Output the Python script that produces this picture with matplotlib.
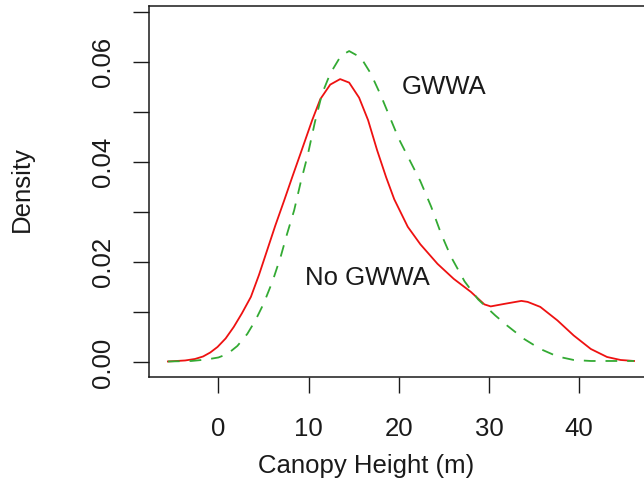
import matplotlib
matplotlib.use("Agg")
import matplotlib.pyplot as plt

plt.rcParams['font.family'] = ['Liberation Sans', 'DejaVu Sans']

# No GWWA (red, solid)
nogwwa_x = [-5.6, -3.7, -2.6, -1.7, -0.9, -0.1, 0.8, 1.7, 2.6, 3.6, 4.5, 5.4, 6.3, 7.3,
            8.2, 9.1, 10.4, 11.3, 12.4, 13.5, 14.5, 15.6, 16.6, 17.6, 18.6, 19.5, 21.0,
            22.4, 24.3, 26.1, 28.0, 29.5, 30.2, 31.7, 33.6, 34.3, 35.7, 37.6, 39.4,
            41.3, 43.1, 44.6, 46.1]
nogwwa_y = [0.0002, 0.0004, 0.0007, 0.0012, 0.0020, 0.0031, 0.0048, 0.0071, 0.0098,
            0.0131, 0.0175, 0.0224, 0.0273, 0.0324, 0.0371, 0.0417, 0.0484, 0.0526,
            0.0555, 0.0566, 0.0559, 0.0529, 0.0484, 0.0424, 0.0370, 0.0326, 0.0271,
            0.0236, 0.0197, 0.0167, 0.0141, 0.0116, 0.0112, 0.0117, 0.0123, 0.0121,
            0.0111, 0.0084, 0.0054, 0.0027, 0.0011, 0.0005, 0.0003]

# GWWA (green, dashed)
gwwa_x = [-5.6, -3.0, -1.3, 0.0, 1.0, 2.1, 3.2, 4.1, 5.0, 6.0, 6.9, 7.6, 8.4, 9.1, 9.9,
          10.7, 11.5, 12.4, 13.6, 14.5, 15.8, 16.9, 18.0, 19.1, 20.0, 21.1, 22.4, 23.6,
          24.7, 25.8, 27.3, 28.8, 30.7, 32.0, 33.9, 35.7, 37.6, 39.4, 41.3, 46.1]
gwwa_y = [0.0002, 0.0003, 0.0006, 0.0010, 0.0017, 0.0033, 0.0057, 0.0084, 0.0117,
          0.0162, 0.0211, 0.0256, 0.0304, 0.0358, 0.0414, 0.0480, 0.0537, 0.0577,
          0.0613, 0.0622, 0.0609, 0.0577, 0.0534, 0.0486, 0.0447, 0.0408, 0.0362,
          0.0311, 0.0257, 0.0211, 0.0162, 0.0126, 0.0094, 0.0074, 0.0047, 0.0027,
          0.0012, 0.0005, 0.0003, 0.0003]

x_ticks = [0, 10, 20, 30, 40]
x_ticklabels = ['0', '10', '20', '30', '40']
y_ticks = [0.00, 0.01, 0.02, 0.03, 0.04, 0.05, 0.06, 0.07]
y_ticklabels = ['0.00', '', '0.02', '', '0.04', '', '0.06', '']

series_labels = ['GWWA', 'No GWWA']
label_pos = [(25.0, 0.0550), (16.5, 0.0168)]

W, H = 644, 487
fig = plt.figure(figsize=(W / 100, H / 100), dpi=100)
left, right, top, bottom = 149, 653, 6, 377
ax = fig.add_axes([left / W, (H - bottom) / H, (right - left) / W, (bottom - top) / H])

txt = '#1a1a1a'
ax.plot(nogwwa_x, nogwwa_y, color='#EE1111', lw=1.3, solid_joinstyle='round')
ax.plot(gwwa_x, gwwa_y, color='#33AA33', lw=1.3, dashes=(6.5, 5.5))

for lab, (lx, ly) in zip(series_labels, label_pos):
    ax.text(lx, ly, lab, ha='center', va='center', fontsize=18.5, color=txt)

ax.set_xlim(-7.7, 48.2)
ax.set_ylim(-0.0029, 0.0712)
ax.set_xticks(x_ticks)
ax.set_xticklabels(x_ticklabels)
ax.set_yticks(y_ticks)
ax.set_yticklabels(y_ticklabels)
ax.tick_params(axis='both', length=11.5, width=1.0, color=txt, labelsize=18.5, labelcolor=txt)
ax.tick_params(axis='x', pad=17)
ax.tick_params(axis='y', pad=13)
for t in ax.get_yticklabels():
    t.set_rotation(90)
    t.set_va('center')

for s in ax.spines.values():
    s.set_linewidth(1.1)
    s.set_color(txt)

ax.set_xlabel('Canopy Height (m)', fontsize=18.5, color=txt, va='center')
ax.xaxis.set_label_coords((366 - left) / (right - left), (bottom - 466) / (bottom - top))
ax.set_ylabel('Density', fontsize=18.5, color=txt, va='center')
ax.yaxis.set_label_coords((22 - left) / (right - left), (bottom - 189) / (bottom - top))

fig.savefig('out.png', dpi=100)
